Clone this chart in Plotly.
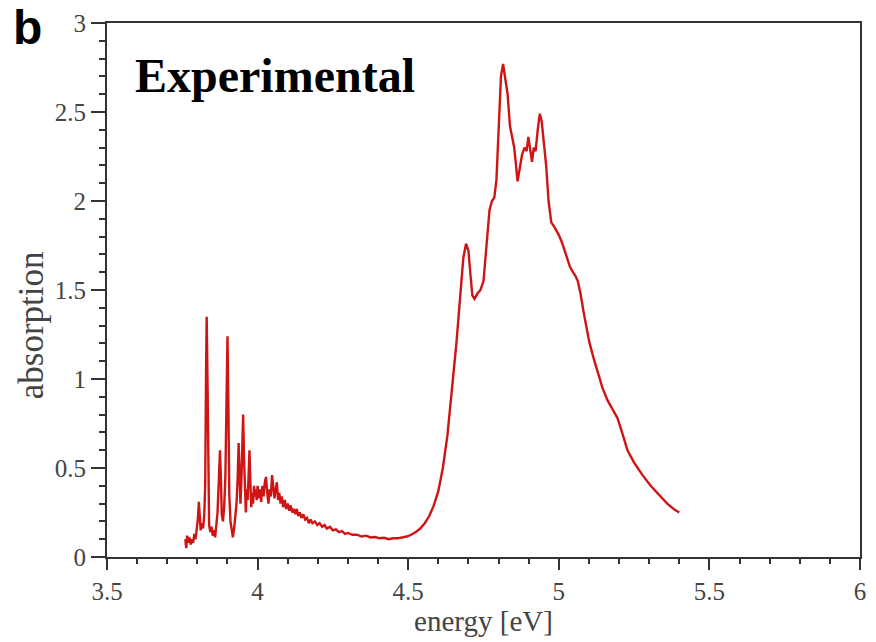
import plotly.graph_objects as go

# Measured absorption spectrum: photon energy (eV) and absorption
energy = [
    3.760, 3.763, 3.766, 3.770, 3.774, 3.778, 3.782, 3.786, 3.790, 3.794,
    3.798, 3.802, 3.805, 3.808, 3.811, 3.815, 3.819, 3.823, 3.826, 3.829,
    3.831, 3.834, 3.836, 3.839, 3.843, 3.847, 3.851, 3.855, 3.859, 3.863,
    3.867, 3.871, 3.875, 3.878, 3.881, 3.885, 3.889, 3.893, 3.897, 3.900,
    3.903, 3.906, 3.910, 3.914, 3.918, 3.922, 3.926, 3.930, 3.934, 3.937,
    3.940, 3.943, 3.946, 3.949, 3.952, 3.955, 3.958, 3.961, 3.964, 3.967,
    3.970, 3.973, 3.976, 3.979, 3.982, 3.985, 3.988, 3.991, 3.994, 3.997,
    4.000, 4.004, 4.008, 4.012, 4.016, 4.020, 4.024, 4.028, 4.032, 4.036,
    4.040, 4.044, 4.048, 4.052, 4.056, 4.060, 4.064, 4.068, 4.072, 4.076,
    4.080, 4.085, 4.090, 4.095, 4.100, 4.105, 4.110, 4.115, 4.120, 4.125,
    4.130, 4.135, 4.140, 4.146, 4.152, 4.158, 4.164, 4.170, 4.176, 4.182,
    4.190, 4.198, 4.206, 4.214, 4.222, 4.230, 4.240, 4.250, 4.260, 4.270,
    4.280, 4.290, 4.300, 4.315, 4.330, 4.345, 4.360, 4.375, 4.390, 4.405,
    4.420, 4.435, 4.450, 4.465, 4.480, 4.495, 4.510, 4.525, 4.540, 4.555,
    4.570, 4.585, 4.600, 4.615, 4.630, 4.645, 4.660, 4.672, 4.683, 4.692,
    4.700, 4.707, 4.713, 4.720, 4.730, 4.740, 4.750, 4.760, 4.770, 4.778,
    4.786, 4.793, 4.800, 4.808, 4.815, 4.822, 4.830, 4.838, 4.846, 4.852,
    4.858, 4.863, 4.870, 4.878, 4.886, 4.893, 4.899, 4.905, 4.911, 4.917,
    4.923, 4.930, 4.937, 4.943, 4.950, 4.958, 4.966, 4.975, 4.983, 4.992,
    5.000, 5.012, 5.025, 5.037, 5.047, 5.055, 5.063, 5.072, 5.082, 5.092,
    5.101, 5.115, 5.130, 5.145, 5.162, 5.178, 5.195, 5.210, 5.228, 5.250,
    5.278, 5.305, 5.331, 5.360, 5.385, 5.400,
]
absorption = [
    0.10, 0.05, 0.12, 0.08, 0.11, 0.07, 0.10, 0.08, 0.13, 0.10,
    0.16, 0.22, 0.31, 0.20, 0.15, 0.19, 0.16, 0.24, 0.40, 1.05,
    1.35, 0.95, 0.40, 0.18, 0.14, 0.17, 0.12, 0.15, 0.11, 0.18,
    0.25, 0.42, 0.60, 0.45, 0.24, 0.20, 0.28, 0.45, 0.95, 1.24,
    0.85, 0.35, 0.20, 0.15, 0.11, 0.16, 0.24, 0.30, 0.45, 0.64,
    0.48, 0.30, 0.42, 0.60, 0.80, 0.55, 0.30, 0.25, 0.38, 0.32,
    0.45, 0.60, 0.42, 0.28, 0.36, 0.30, 0.40, 0.34, 0.38, 0.32,
    0.40, 0.33, 0.38, 0.31, 0.40, 0.34, 0.42, 0.45, 0.36, 0.30,
    0.38, 0.34, 0.46, 0.40, 0.33, 0.38, 0.42, 0.32, 0.36, 0.30,
    0.34, 0.28, 0.32, 0.27, 0.30, 0.26, 0.29, 0.25, 0.27, 0.24,
    0.27, 0.23, 0.25, 0.22, 0.24, 0.21, 0.22, 0.19, 0.21, 0.19,
    0.20, 0.18, 0.19, 0.17, 0.18, 0.16, 0.17, 0.15, 0.155, 0.14,
    0.145, 0.13, 0.135, 0.125, 0.125, 0.115, 0.12, 0.11, 0.112, 0.105,
    0.108, 0.10, 0.105, 0.105, 0.11, 0.115, 0.125, 0.14, 0.16, 0.19,
    0.23, 0.29, 0.37, 0.50, 0.68, 0.92, 1.20, 1.45, 1.68, 1.76,
    1.72, 1.58, 1.47, 1.45, 1.48, 1.50, 1.55, 1.75, 1.95, 2.00,
    2.02, 2.12, 2.40, 2.70, 2.77, 2.70, 2.60, 2.42, 2.35, 2.30,
    2.20, 2.11, 2.18, 2.26, 2.30, 2.28, 2.36, 2.28, 2.22, 2.30,
    2.28, 2.40, 2.49, 2.45, 2.35, 2.20, 2.00, 1.88, 1.86, 1.83,
    1.81, 1.76, 1.69, 1.63, 1.60, 1.58, 1.55, 1.48, 1.38, 1.28,
    1.21, 1.12, 1.03, 0.95, 0.88, 0.83, 0.78, 0.70, 0.60, 0.53,
    0.46, 0.40, 0.35, 0.30, 0.265, 0.25,
]

x_range = [3.5, 6.0]
y_range = [0, 3.0]
major_step = 0.5
minor_step = 0.1

serif = "Liberation Serif, Times New Roman, serif"
axis_col = "#333333"
label_col = "#444444"

fig = go.Figure()
fig.add_trace(go.Scatter(
    x=energy, y=absorption, mode="lines",
    line=dict(color="#cf1414", width=2.4),
    showlegend=False, hoverinfo="skip",
))
# empty trace so the minor-tick overlay axes get drawn
fig.add_trace(go.Scatter(
    x=[], y=[], xaxis="x2", yaxis="y2", mode="lines",
    showlegend=False, hoverinfo="skip",
))

fig.update_layout(
    xaxis=dict(
        range=x_range, tickmode="linear", tick0=x_range[0], dtick=major_step,
        showline=True, linecolor=axis_col, linewidth=2, mirror=True,
        showgrid=False, zeroline=False,
        ticks="outside", ticklen=11, tickwidth=2, tickcolor=axis_col,
        tickfont=dict(family=serif, size=25, color=label_col),
        title=dict(text="energy [eV]", font=dict(family=serif, size=29, color=label_col), standoff=5),
    ),
    yaxis=dict(
        range=y_range, tickmode="linear", tick0=y_range[0], dtick=major_step,
        showline=True, linecolor=axis_col, linewidth=2, mirror=True,
        showgrid=False, zeroline=False,
        ticks="outside", ticklen=14, tickwidth=2, tickcolor=axis_col,
        tickfont=dict(family=serif, size=25, color=label_col),
    ),
    xaxis2=dict(
        range=x_range, overlaying="x", anchor="y2", side="bottom",
        tickmode="linear", tick0=x_range[0], dtick=minor_step,
        ticks="outside", ticklen=6, tickwidth=1.5, tickcolor=axis_col,
        showticklabels=False, showgrid=False, zeroline=False, showline=False,
    ),
    yaxis2=dict(
        range=y_range, overlaying="y", anchor="x2", side="left",
        tickmode="linear", tick0=y_range[0], dtick=minor_step,
        ticks="outside", ticklen=7, tickwidth=1.5, tickcolor=axis_col,
        showticklabels=False, showgrid=False, zeroline=False, showline=False,
    ),
)

# y-axis title, placed a little below the axis midpoint
fig.add_annotation(
    text="absorption", xref="paper", yref="paper",
    x=-0.101, y=0.434, xanchor="center", yanchor="middle", textangle=-90,
    showarrow=False, font=dict(family=serif, size=35, color=label_col),
)
fig.add_annotation(
    text="<b>Experimental</b>", xref="paper", yref="paper",
    x=0.034, y=0.955, xanchor="left", yanchor="top", showarrow=False,
    font=dict(family=serif, size=48, color="black"),
)
fig.add_annotation(
    text="<b>b</b>", xref="paper", yref="paper",
    x=-0.128, y=1.045, xanchor="left", yanchor="top", showarrow=False,
    font=dict(family="Liberation Sans, Arial, sans-serif", size=48, color="black"),
)

fig.update_layout(
    width=876, height=642,
    margin=dict(l=107, r=10, t=20, b=85),
    paper_bgcolor="white", plot_bgcolor="white",
)

fig.write_html("out.html")
